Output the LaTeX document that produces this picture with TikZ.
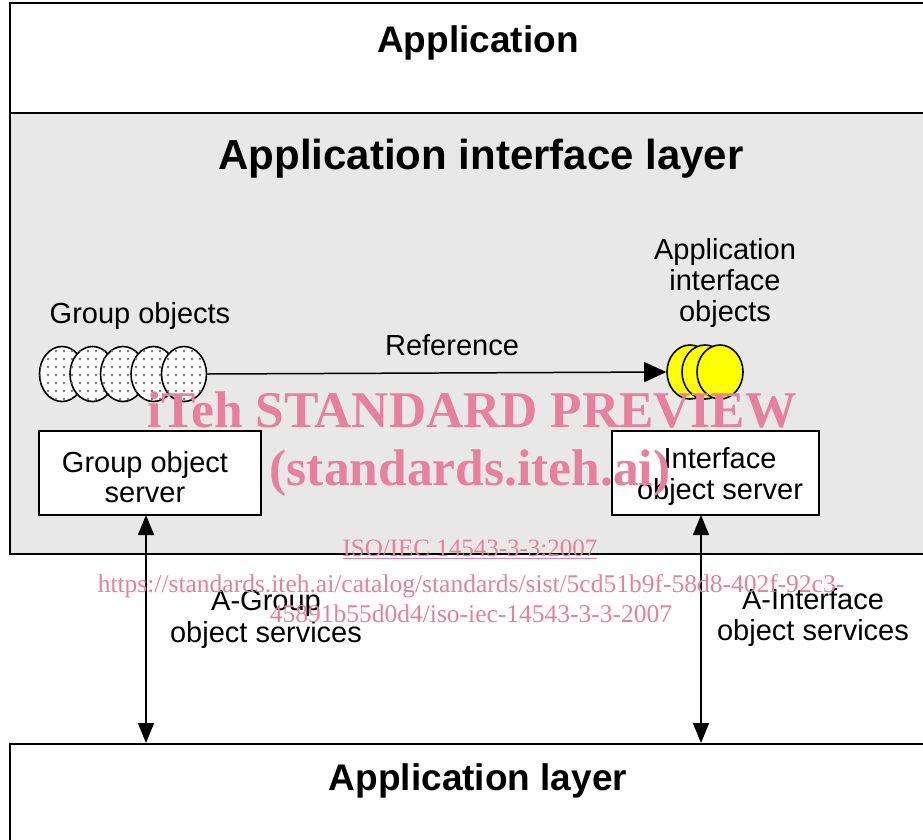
\documentclass[tikz,border=0pt]{standalone}
\usepackage{fontspec}
\setmainfont{Liberation Sans}
\newfontfamily\wmfont{Liberation Serif}
\usetikzlibrary{arrows.meta,shapes.geometric,patterns.meta}
\definecolor{layergray}{RGB}{232,232,232}
\definecolor{wmpink}{RGB}{230,128,158}
\definecolor{objyellow}{RGB}{255,255,0}
\tikzset{
  layer/.style={draw=black,line width=1.6pt,rectangle,anchor=north west,inner sep=0pt},
  server/.style={draw=black,line width=1.6pt,fill=white,rectangle,inner sep=0pt},
  bigtitle/.style={font=\fontsize{37}{40}\selectfont\bfseries,inner sep=0pt},
  midtitle/.style={font=\fontsize{42}{46}\selectfont\bfseries,inner sep=0pt},
  lbl/.style={font=\fontsize{29}{31}\selectfont,align=center,inner sep=0pt},
  gobj/.style={ellipse,draw=black,line width=1.6pt,minimum width=45pt,minimum height=55pt,inner sep=0pt,
     preaction={fill=white},postaction={pattern={Dots[radius=1.3pt,distance=8pt]},pattern color=black!55}},
  yobj/.style={ellipse,draw=black,line width=1.6pt,fill=objyellow,minimum width=46pt,minimum height=54pt,inner sep=0pt},
  conn/.style={line width=1.5pt,draw=black},
  tip/.style={Triangle[length=22pt,width=18pt]},
  wm/.style={text=wmpink,inner sep=0pt,align=center},
}
\begin{document}
\begin{tikzpicture}[x=1pt,y=-1pt]
\useasboundingbox (0,0) rectangle (923,839);
\clip (0,0) rectangle (923,839);
\fill[white] (0,0) rectangle (923,839);
% layers
\node[layer,minimum width=940pt,minimum height=110pt] (app) at (9,2) {};
\node[layer,fill=layergray,minimum width=940pt,minimum height=441pt] (ail) at (9,112) {};
\node[layer,minimum width=940pt,minimum height=120pt] (al) at (9,743) {};
\node[bigtitle] (apptxt) at (478,43) {Application};
\node[midtitle] (ailtxt) at (481,159) {Application interface layer};
\node[bigtitle] (altxt) at (478,781) {Application layer};
% group objects
\node[gobj] (g1) at (62,374) {};
\node[gobj] (g2) at (92.5,374) {};
\node[gobj] (g3) at (123,374) {};
\node[gobj] (g4) at (153.5,374) {};
\node[gobj] (g5) at (184,374) {};
\node[lbl] (gotxt) at (140,316) {Group objects};
% interface objects
\node[yobj] (y1) at (690,372) {};
\node[yobj] (y2) at (705,372) {};
\node[yobj] (y3) at (720,372) {};
\node[lbl] (aiotxt) at (725,283) {Application\\interface\\objects};
% reference arrow
\draw[conn,-{Triangle[length=22pt,width=20pt]}] (g5.east) -- (y1.west);
\node[lbl] (reftxt) at (452,345) {Reference};
% servers
\node[server,minimum width=222pt,minimum height=84pt] (gos) at (150,473) {};
\node[lbl,font=\fontsize{29}{30}\selectfont] (gostxt) at (145,477) {Group object\\server};
\node[server,minimum width=207pt,minimum height=84pt] (ios) at (715.5,473) {};
\node[lbl,font=\fontsize{29}{31}\selectfont] (iostxt) at (720,476.5) {Interface\\object server};
% service arrows
\coordinate (gtop) at (146,515);
\coordinate (itop) at (701,515);
\draw[conn,{Triangle[length=20pt,width=16pt]}-{Triangle[length=20pt,width=16pt]}] (gtop) -- (gtop |- al.north);
\draw[conn,{Triangle[length=20pt,width=16pt]}-{Triangle[length=20pt,width=16pt]}] (itop) -- (itop |- al.north);
\node[lbl,font=\fontsize{29}{32}\selectfont] (gstxt) at (266,619) {A-Group\\object services};
\node[lbl] (istxt) at (813,617.5) {A-Interface\\object services};
% watermark
\node[wm,font=\wmfont\bfseries\fontsize{51.5}{54}\selectfont] (wm1) at (472,410) {iTeh STANDARD PREVIEW};
\node[wm,font=\wmfont\bfseries\fontsize{51.5}{54}\selectfont] (wm2) at (470,473) {(standards.iteh.ai)};
\node[wm,font=\wmfont\fontsize{25}{27}\selectfont] (wm3) at (470,549) {\underline{ISO/IEC 14543-3-3:2007}};
\node[wm,font=\wmfont\fontsize{25.5}{30}\selectfont] (wm4) at (471,599) {https://standards.iteh.ai/catalog/standards/sist/5cd51b9f-58d8-402f-92c3-\\45891b55d0d4/iso-iec-14543-3-3-2007};
\end{tikzpicture}
\end{document}
